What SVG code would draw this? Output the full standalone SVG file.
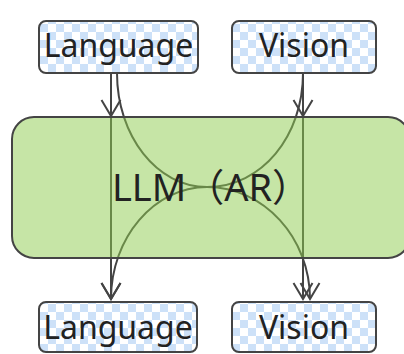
<svg xmlns="http://www.w3.org/2000/svg" width="404" height="354" viewBox="0 0 404 354">
  <style>
    .edge { fill: none; stroke: #444; stroke-width: 2; }
    .small { fill: url(#checker); stroke: #444; stroke-width: 2; }
    .lbl { font-family: "Noto Sans", "Noto Sans CJK SC", sans-serif; fill: #222; text-anchor: middle; }
  </style>
  <defs>
    <pattern id="checker" patternUnits="userSpaceOnUse" width="16" height="16">
      <rect width="16" height="16" fill="#ffffff"/>
      <rect x="0" y="0" width="8" height="8" fill="#cde1f8"/>
      <rect x="8" y="8" width="8" height="8" fill="#cde1f8"/>
    </pattern>
    <marker id="arrow" markerUnits="userSpaceOnUse" markerWidth="20" markerHeight="20" orient="auto" overflow="visible">
      <path d="M-16,-9.5 L0,0 L-16,9.5" fill="none" stroke="#444" stroke-width="2" stroke-linejoin="miter"/>
    </marker>
  </defs>

  <g id="connectors">
    <path class="edge" d="M111,73 V116" marker-end="url(#arrow)"/>
    <path class="edge" d="M303,73 V116" marker-end="url(#arrow)"/>
    <path class="edge" d="M111,116 V299" marker-end="url(#arrow)"/>
    <path class="edge" d="M303,116 V299" marker-end="url(#arrow)"/>
    <path class="edge" d="M117,73 C117,136 157,187 207,187 C264,187 310,238 310,299" marker-end="url(#arrow)"/>
    <path class="edge" d="M303,73 C303,136 262,187 207,187 C154,187 111,238 111,299" marker-end="url(#arrow)"/>
  </g>

  <g id="llm">
    <rect x="12" y="117" width="398" height="141" rx="22" ry="22" fill="#8ecb4e" fill-opacity="0.5" stroke="#444" stroke-width="2"/>
    <text class="lbl" x="211" y="201" font-size="38">LLM（AR）</text>
  </g>

  <g id="language-in">
    <rect class="small" x="39" y="21" width="159" height="52" rx="7" ry="7"/>
    <text class="lbl" x="118.5" y="57" font-size="32">Language</text>
  </g>

  <g id="vision-in">
    <rect class="small" x="232" y="21" width="144" height="52" rx="7" ry="7"/>
    <text class="lbl" x="304" y="57" font-size="32">Vision</text>
  </g>

  <g id="language-out">
    <rect class="small" x="39" y="302" width="158" height="50" rx="7" ry="7"/>
    <text class="lbl" x="118" y="339" font-size="32">Language</text>
  </g>

  <g id="vision-out">
    <rect class="small" x="232" y="302" width="144" height="50" rx="7" ry="7"/>
    <text class="lbl" x="304" y="339" font-size="32">Vision</text>
  </g>
</svg>
